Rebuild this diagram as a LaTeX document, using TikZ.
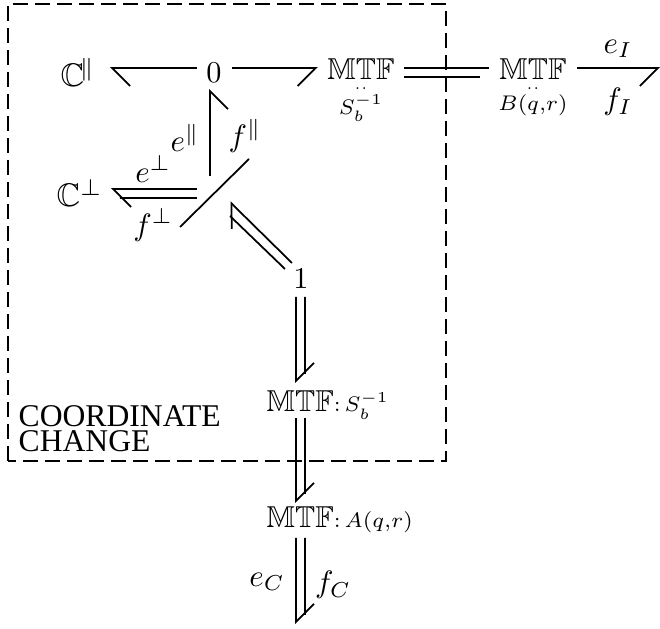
\documentclass[tikz,border=0pt]{standalone}
\usepackage{amsmath,amssymb}
\usepackage{fontspec}
\newfontfamily\boxfont{Liberation Serif}
\usetikzlibrary{arrows.meta}
\tikzset{
    bond/.style={line width=0.5pt},
    barbleft/.style={bond,-{Straight Barb[left,length=0.18cm,width=0.36cm,line width=0.5pt]}},
    barbright/.style={bond,-{Straight Barb[right,length=0.18cm,width=0.36cm,line width=0.5pt]}},
    port/.style={inner sep=0pt,anchor=base,scale=0.86},
    portleft/.style={inner sep=0pt,anchor=base west,scale=0.86},
    cport/.style={inner sep=0pt,anchor=base west,scale=0.93},
    lbl/.style={inner sep=0pt,scale=0.88}
}
\newcommand{\mtf}{\mathbb{MTF}}
\begin{document}
\begin{tikzpicture}[scale=1.0]
    \useasboundingbox (0,0) rectangle (6.6,6.29);

    \node[cport] (cpar) at (0.60,5.42) {$\mathbb{C}^{\!\parallel}$};
    \node[port] (zeroa) at (2.14,5.46) {$0$};
    \node[port] (mtfs) at (3.61,5.49) {$\underset{\overset{..}{S_b^{-1}}}{\mtf}$};
    \node[port] (mtfb) at (5.33,5.49) {$\underset{\overset{..}{B(q,r)}}{\mtf}$};
    \node[cport] (cperp) at (0.56,4.22) {$\mathbb{C}^{\perp}$};
    \node[port] (one) at (3.01,3.40) {$1$};
    \node[portleft] (mtfc) at (2.66,2.17) {$\mtf{\scriptstyle :\,S_b^{-1}}$};
    \node[portleft] (mtfa) at (2.66,1.01) {$\mtf{\scriptstyle :\,A(q,r)}$};

    \coordinate (jun) at (2.10,4.39);
    \coordinate (stra) at (1.80,4.02);
    \coordinate (strb) at (2.49,4.70);
    \coordinate (iend) at (6.60,5.61);
    \coordinate (cend) at (2.96,0.05);

    % horizontal bonds
    \draw[barbleft] ([shift={(-0.09,0.15)}]zeroa.base west) -- ([shift={(0.50,0.19)}]cpar.base west);
    \draw[barbright] ([shift={(0.10,0.15)}]zeroa.base east) -- ([shift={(-0.09,0.12)}]mtfs.base west);
    \draw[bond] ([shift={(0.09,0.12)}]mtfs.base east) -- ([shift={(-0.09,0.12)}]mtfb.base west);
    \draw[bond] ([shift={(0.09,0.03)}]mtfs.base east) -- ([shift={(-0.18,0.03)}]mtfb.base west);
    \draw[barbright] ([shift={(0.09,0.12)}]mtfb.base east) -- (iend);

    % bonds at the junction
    \draw[barbright] ([yshift=0.14cm]jun) -- ([shift={(0,-0.06)}]zeroa.base -| jun);
    \draw[barbleft] ([shift={(-0.13,0.01)}]jun) -- ([shift={(0.55,0.18)}]cperp.base west);
    \draw[bond] ([shift={(-0.13,-0.08)}]jun) -- ([shift={(0.64,0.09)}]cperp.base west);
    \draw[bond] (stra) -- (strb);
    \draw[barbleft] ([shift={(-0.09,0.26)}]one.base) -- ([shift={(0.20,-0.12)}]jun);
    \draw[bond] ([shift={(-0.16,0.20)}]one.base) -- ([shift={(0.20,-0.26)}]jun);

    % vertical bonds
    \draw[barbleft] ([shift={(-0.05,-0.08)}]one.base) -- ([shift={(0.30,0.29)}]mtfc.base west);
    \draw[bond] ([shift={(0.04,-0.08)}]one.base) -- ([shift={(0.39,0.38)}]mtfc.base west);
    \draw[barbleft] ([shift={(0.30,-0.06)}]mtfc.base west) -- ([shift={(0.30,0.25)}]mtfa.base west);
    \draw[bond] ([shift={(0.39,-0.06)}]mtfc.base west) -- ([shift={(0.39,0.34)}]mtfa.base west);
    \draw[barbleft] ([shift={(0.30,-0.10)}]mtfa.base west) -- (cend);
    \draw[bond] ([shift={(0.39,-0.10)}]mtfa.base west) -- ([shift={(0.09,0.09)}]cend);

    \node[lbl] (eI) at (6.18,5.80) {$e_I$};
    \node[lbl] (fI) at (6.18,5.27) {$f_I$};
    \node[lbl] (epar) at (1.85,4.91) {$e^{\parallel}$};
    \node[lbl] (fpar) at (2.45,4.93) {$f^{\parallel}$};
    \node[lbl] (eperp) at (1.53,4.60) {$e^{\perp}$};
    \node[lbl] (fperp) at (1.53,4.04) {$f^{\perp}$};
    \node[lbl] (eC) at (2.67,0.47) {$e_C$};
    \node[lbl] (fC) at (3.33,0.44) {$f_C$};

    \draw[dash pattern=on 0.15cm off 0.07cm,line width=0.5pt] (0.08,1.68) rectangle (4.46,6.25);
    \node[inner sep=0pt,anchor=west,align=left,font=\boxfont\fontsize{9}{7.1}\selectfont] (change) at (0.18,2.00) {COORDINATE\\CHANGE};
\end{tikzpicture}
\end{document}
